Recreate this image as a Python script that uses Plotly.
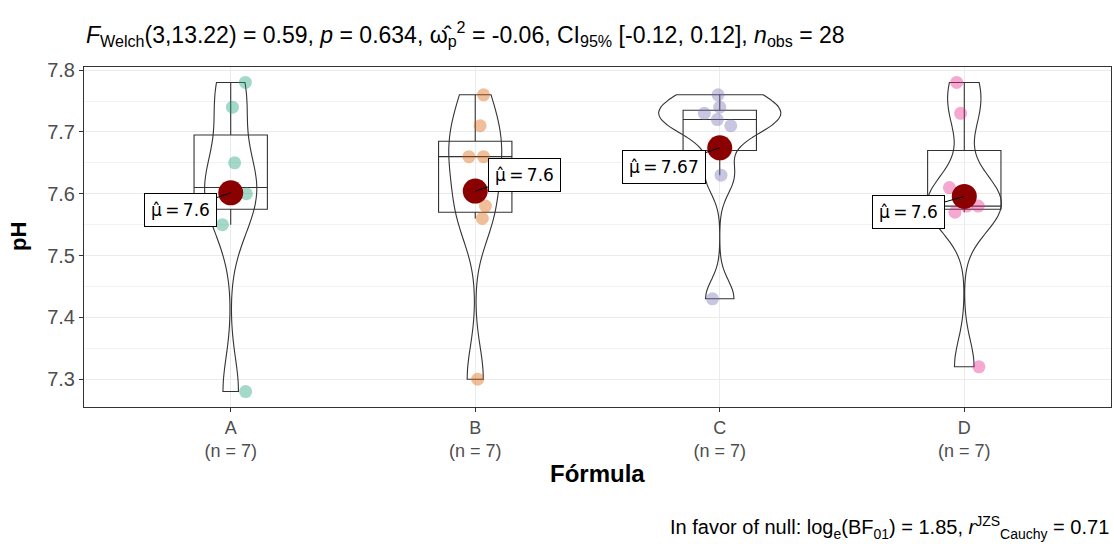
import numpy as np
import plotly.graph_objects as go

# ---------------- data ----------------
GROUPS = ["A", "B", "C", "D"]
PH_A = [7.78, 7.74, 7.65, 7.61, 7.60, 7.55, 7.28]
PH_B = [7.76, 7.71, 7.66, 7.66, 7.58, 7.56, 7.30]
PH_C = [7.76, 7.74, 7.73, 7.72, 7.71, 7.63, 7.43]
PH_D = [7.78, 7.73, 7.61, 7.58, 7.58, 7.57, 7.32]
# horizontal jitter of the raw points (category units)
JIT_A = [0.06, 0.007, 0.016, 0.0, 0.064, -0.034, 0.061]
JIT_B = [0.034, 0.02, -0.026, 0.034, 0.042, 0.029, 0.01]
JIT_C = [-0.007, 0.0, -0.063, -0.01, 0.045, 0.005, -0.03]
JIT_D = [-0.031, -0.015, -0.061, 0.057, 0.01, -0.038, 0.06]
# mean label offsets in pixels (label centre relative to mean dot)
LBL_OFF = [(-50, 17), (49, -16), (-56, 19), (-56, 16)]

TITLE = ("<i>F</i><sub>Welch</sub>(3,13.22) = 0.59, <i>p</i> = 0.634, "
         "ω\u0302<sub>p</sub><sup>2</sup> = -0.06, CI<sub>95%</sub> [-0.12, 0.12], "
         "<i>n</i><sub>obs</sub> = 28")
CAPTION = ("In favor of null: log<sub>e</sub>(BF<sub>01</sub>) = 1.85, "
           "<i>r</i><sup>JZS</sup><sub>Cauchy</sub> = 0.71")
X_TITLE = "Fórmula"
Y_TITLE = "pH"

COLORS = ["#1B9E77", "#D95F02", "#7570B3", "#E7298A"]
FONT = "Liberation Sans, Arial, sans-serif"
LFONT = "DejaVu Sans, Liberation Sans, sans-serif"

data = [PH_A, PH_B, PH_C, PH_D]
jits = [JIT_A, JIT_B, JIT_C, JIT_D]


def nrd0(v):
    v = np.asarray(v, float)
    sd = v.std(ddof=1)
    iqr = np.subtract(*np.percentile(v, [75, 25]))
    lo = min(sd, iqr / 1.34)
    return 0.9 * lo * len(v) ** (-0.2)


def kde(v, bw, grid):
    v = np.asarray(v, float)
    z = (grid[:, None] - v[None, :]) / bw
    return np.exp(-0.5 * z ** 2).sum(axis=1) / (len(v) * bw * np.sqrt(2 * np.pi))


peaks = []
bws = []
for v in data:
    bw = nrd0(v)
    bws.append(bw)
    g = np.linspace(min(v), max(v), 512)
    peaks.append(kde(v, bw, g).max())
gmax = max(peaks)

fig = go.Figure()

for i, v in enumerate(data):
    xpos = i + 1
    # violin
    fig.add_trace(go.Violin(
        x=[xpos] * len(v), y=v, width=0.5 * peaks[i] / gmax,
        bandwidth=bws[i], spanmode="hard", scalemode="width",
        line=dict(color="#333333", width=1.1), fillcolor="rgba(0,0,0,0)",
        points=False, box_visible=False, meanline_visible=False,
        hoverinfo="skip", showlegend=False))
    # box
    arr = np.asarray(v, float)
    q1, med, q3 = np.percentile(arr, [25, 50, 75])
    iqr = q3 - q1
    lf = arr[arr >= q1 - 1.5 * iqr].min()
    uf = arr[arr <= q3 + 1.5 * iqr].max()
    fig.add_trace(go.Box(
        x=[xpos], q1=[q1], median=[med], q3=[q3], lowerfence=[lf], upperfence=[uf],
        width=0.3, whiskerwidth=0, line=dict(color="#333333", width=1.1),
        fillcolor="rgba(0,0,0,0)", boxpoints=False, hoverinfo="skip", showlegend=False))
    # raw points
    fig.add_trace(go.Scatter(
        x=[xpos + j for j in jits[i]], y=v, mode="markers",
        marker=dict(color=COLORS[i], size=13, opacity=0.4, line=dict(width=0)),
        hoverinfo="skip", showlegend=False))

means = [float(np.mean(v)) for v in data]
fig.add_trace(go.Scatter(
    x=[1, 2, 3, 4], y=means, mode="markers",
    marker=dict(color="#8B0000", size=25, line=dict(width=0)),
    hoverinfo="skip", showlegend=False))


def fmt(m):
    s = f"{m:.2f}"
    return s.rstrip("0").rstrip(".")


for i, m in enumerate(means):
    ax, ay = LBL_OFF[i]
    fig.add_annotation(
        x=i + 1, y=m, xref="x", yref="y", text="μ\u0302\u2009=\u2009" + fmt(m),
        showarrow=True, arrowhead=0, arrowwidth=1, arrowcolor="black",
        ax=ax, ay=ay, bgcolor="white", bordercolor="black", borderwidth=1,
        borderpad=6, font=dict(family=LFONT, size=17, color="black"))

# titles
fig.add_annotation(x=0, y=1, xref="paper", yref="paper", xanchor="left",
                   yanchor="middle", yshift=33, text=TITLE, showarrow=False,
                   font=dict(family=FONT, size=23, color="black"))
fig.add_annotation(x=1, y=0, xref="paper", yref="paper", xanchor="right",
                   yanchor="middle", yshift=-120, text=CAPTION, showarrow=False,
                   font=dict(family=FONT, size=20, color="black"))
fig.add_annotation(x=0.5, y=0, xref="paper", yref="paper", xanchor="center",
                   yanchor="middle", yshift=-66, text="<b>" + X_TITLE + "</b>",
                   showarrow=False, font=dict(family=FONT, size=24, color="black"))
fig.add_annotation(x=0, y=0.5, xref="paper", yref="paper", xanchor="center",
                   yanchor="middle", xshift=-66, text="<b>" + Y_TITLE + "</b>",
                   textangle=-90, showarrow=False,
                   font=dict(family=FONT, size=22, color="black"))

fig.update_layout(
    width=1114, height=544, autosize=False,
    margin=dict(l=84, r=3, t=67, b=137),
    paper_bgcolor="white", plot_bgcolor="white",
    violinmode="overlay", boxmode="overlay", showlegend=False,
    font=dict(family=FONT),
)
fig.update_xaxes(
    range=[0.4, 4.6], tickvals=[1, 2, 3, 4],
    ticktext=[f"{g}<br>(n = {len(v)})" for g, v in zip(GROUPS, data)],
    tickfont=dict(family=FONT, size=18, color="#4D4D4D"),
    showgrid=True, gridcolor="#EBEBEB", gridwidth=1, zeroline=False,
    showline=True, mirror=True, linecolor="#333333", linewidth=1,
    ticks="outside", ticklen=4, tickcolor="#333333")
fig.update_yaxes(
    range=[7.255, 7.805], tick0=7.3, dtick=0.1, tickformat=".1f",
    tickfont=dict(family=FONT, size=20, color="#4D4D4D"),
    showgrid=True, gridcolor="#EBEBEB", gridwidth=1, zeroline=False,
    minor=dict(dtick=0.05, tick0=7.25, showgrid=True, gridcolor="#F2F2F2", gridwidth=1),
    showline=True, mirror=True, linecolor="#333333", linewidth=1,
    ticks="outside", ticklen=4, tickcolor="#333333")

fig.write_html("out.html")
